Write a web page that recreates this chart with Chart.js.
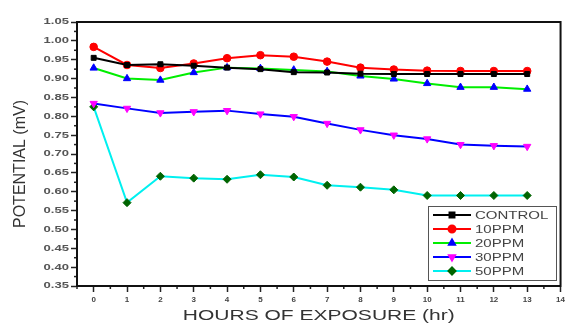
<!DOCTYPE html>
<html>
<head>
<meta charset="utf-8">
<script src="https://cdn.jsdelivr.net/npm/chart.js@4.4.1/dist/chart.umd.min.js"></script>
<style>
  html, body { margin: 0; padding: 0; background: #fff; }
  #wrap { width: 568px; height: 324px; }
</style>
</head>
<body>
<div id="wrap"><canvas id="chart" width="568" height="324"></canvas></div>
<script>
// hours of exposure
var hours = [0, 1, 2, 3, 4, 5, 6, 7, 8, 9, 10, 11, 12, 13];
var xTickLabels = [0, 1, 2, 3, 4, 5, 6, 7, 8, 9, 10, 11, 12, 13, 14];
var yTickLabels = [0.35, 0.40, 0.45, 0.50, 0.55, 0.60, 0.65, 0.70, 0.75, 0.80, 0.85, 0.90, 0.95, 1.00, 1.05];
var xTitle = 'HOURS OF EXPOSURE (hr)';
var yTitle = 'POTENTIAL (mV)';

// potential (mV) per series
var control = [0.955, 0.936, 0.938, 0.934, 0.929, 0.925, 0.917, 0.916, 0.913, 0.912, 0.912, 0.912, 0.912, 0.912];
var ppm10   = [0.984, 0.936, 0.928, 0.940, 0.954, 0.962, 0.958, 0.945, 0.929, 0.924, 0.921, 0.920, 0.920, 0.920];
var ppm20   = [0.928, 0.900, 0.896, 0.916, 0.929, 0.927, 0.923, 0.919, 0.907, 0.899, 0.887, 0.877, 0.877, 0.872];
var ppm30   = [0.834, 0.821, 0.809, 0.812, 0.815, 0.806, 0.799, 0.781, 0.764, 0.750, 0.740, 0.725, 0.722, 0.720];
var ppm50   = [0.825, 0.571, 0.641, 0.636, 0.633, 0.645, 0.639, 0.617, 0.612, 0.605, 0.590, 0.590, 0.590, 0.590];

var FONT = '"Liberation Sans", Arial, sans-serif';

function pts(arr){
    return arr.map(function(v, i){ return {x: hours[i], y: v}; });
}

function series(label, data, line, fill, shape, rot, r){
    return {
        label: label,
        data: pts(data),
        borderColor: line,
        backgroundColor: fill,
        pointBackgroundColor: fill,
        pointBorderColor: fill,
        pointStyle: shape,
        rotation: rot,
        pointRadius: r,
        pointBorderWidth: 1,
        borderWidth: 2,
        tension: 0
    };
}

var datasets = [
    series('CONTROL', control, '#000000', '#000000', 'rect', 0, 3.5),
    series('10PPM', ppm10, '#ff0000', '#ff0000', 'circle', 0, 3.8),
    series('20PPM', ppm20, '#00ee00', '#0000ff', 'triangle', 0, 4.2),
    series('30PPM', ppm30, '#0000ff', '#ff00ff', 'triangle', 180, 4.2),
    series('50PPM', ppm50, '#00f0f0', '#006400', 'rectRot', 0, 4)
];

// stretched text, the source picture is widened horizontally
function wideText(ctx, txt, x, y, sx, align){
    ctx.save();
    ctx.translate(x, y);
    ctx.scale(sx, 1);
    ctx.textAlign = align;
    ctx.fillText(txt, 0, 0);
    ctx.restore();
}

// minor ticks, plot frame, tick labels, titles and in-plot legend
var framePlugin = {
    id: 'frame',
    afterDraw: function(chart){
        var ctx = chart.ctx, a = chart.chartArea;
        var xs = chart.scales.x, ys = chart.scales.y;
        ctx.save();
        ctx.strokeStyle = '#222';
        ctx.lineWidth = 1.5;
        for (var i = 0; i < xTickLabels.length; i++){
            var px = xs.getPixelForValue(xTickLabels[i] - 0.5);
            ctx.beginPath(); ctx.moveTo(px, a.bottom); ctx.lineTo(px, a.bottom + 3); ctx.stroke();
        }
        for (var j = 0; j < yTickLabels.length - 1; j++){
            var py = ys.getPixelForValue(yTickLabels[j] + 0.025);
            ctx.beginPath(); ctx.moveTo(a.left, py); ctx.lineTo(a.left - 3, py); ctx.stroke();
        }
        ctx.lineWidth = 2;
        ctx.strokeStyle = '#111';
        ctx.strokeRect(a.left, a.top, a.right - a.left, a.bottom - a.top);

        // y tick labels
        ctx.fillStyle = '#555';
        ctx.font = 'bold 9px ' + FONT;
        ctx.textBaseline = 'middle';
        yTickLabels.forEach(function(v){
            wideText(ctx, v.toFixed(2), a.left - 8, ys.getPixelForValue(v), 1.45, 'right');
        });

        // axis titles
        ctx.fillStyle = '#333';
        ctx.font = '15px ' + FONT;
        wideText(ctx, xTitle, (a.left + a.right) / 2, 316, 1.4, 'center');
        ctx.save();
        ctx.translate(21, 164);
        ctx.rotate(-Math.PI / 2);
        ctx.font = '16px ' + FONT;
        ctx.textAlign = 'center';
        ctx.fillText(yTitle, 0, 0);
        ctx.restore();

        // legend box
        var lx = 428, ly = 206, lw = 128, lh = 74;
        ctx.lineWidth = 1;
        ctx.strokeStyle = '#555';
        ctx.fillStyle = '#fff';
        ctx.fillRect(lx, ly, lw, lh);
        ctx.strokeRect(lx + 0.5, ly + 0.5, lw, lh);
        ctx.font = '10px ' + FONT;
        chart.data.datasets.forEach(function(ds, k){
            var y = ly + 9 + k * 14;
            ctx.strokeStyle = ds.borderColor;
            ctx.lineWidth = 2;
            ctx.beginPath(); ctx.moveTo(lx + 5, y); ctx.lineTo(lx + 43, y); ctx.stroke();
            ctx.fillStyle = ds.pointBackgroundColor;
            ctx.strokeStyle = ds.pointBorderColor;
            Chart.helpers.drawPoint(ctx, {pointStyle: ds.pointStyle, rotation: ds.rotation, radius: 3.5, borderWidth: 1}, lx + 24, y);
            ctx.fillStyle = '#444';
            wideText(ctx, ds.label, lx + 47, y + 1, 1.5, 'left');
        });
        ctx.restore();
    }
};

var context = document.getElementById('chart').getContext('2d');
var myChart = new Chart(context, {
    type: 'line',
    data: { datasets: datasets },
    options: {
        responsive: false,
        animation: false,
        layout: { padding: { top: 22, right: 5, left: 0, bottom: 0 } },
        plugins: { legend: { display: false }, tooltip: { enabled: false } },
        scales: {
            x: {
                type: 'linear',
                min: -0.5,
                max: 14,
                afterBuildTicks: function(s){ s.ticks = xTickLabels.map(function(v){ return {value: v}; }); },
                afterFit: function(s){ s.height = 38; },
                grid: { drawOnChartArea: false, tickLength: 6, tickWidth: 1.5, tickColor: '#222' },
                border: { display: true, color: '#111', width: 2 },
                ticks: { padding: 3, color: '#444', font: { size: 8, weight: 'bold', family: FONT }, maxRotation: 0 }
            },
            y: {
                min: 0.35,
                max: 1.05,
                afterBuildTicks: function(s){ s.ticks = yTickLabels.map(function(v){ return {value: v}; }); },
                afterFit: function(s){ s.width = 77; },
                grid: { drawOnChartArea: false, tickLength: 6, tickWidth: 1.5, tickColor: '#222' },
                border: { display: true, color: '#111', width: 2 },
                ticks: { display: false }
            }
        }
    },
    plugins: [framePlugin]
});
</script>
</body>
</html>
